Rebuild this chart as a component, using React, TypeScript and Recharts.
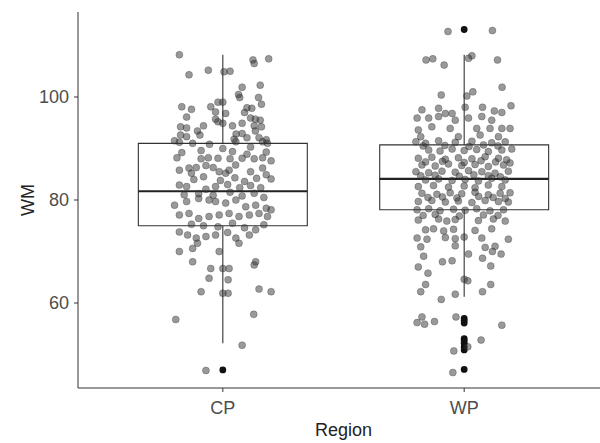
import React from 'react';
import {
  ComposedChart,
  Scatter,
  XAxis,
  YAxis,
  ReferenceArea,
  ReferenceLine,
  Label,
} from 'recharts';

const categories = ['CP', 'WP'];
const yTicks = [60, 80, 100];

// box statistics, one value per region
const lowerWhisker = [52.2, 61.2];
const q1 = [75.0, 78.1];
const median = [81.7, 84.1];
const q3 = [91.0, 90.7];
const upperWhisker = [108.2, 108.2];

const cpOutliers = [47.0];
const wpOutliers = [113.1, 57.0, 56.6, 56.1, 53.1, 52.7, 52.2, 51.5, 50.9, 47.1];

// jittered points: [horizontal jitter, WM]
const cpJitter = [
  [-0.18, 108.2], [-0.14, 104.3], [-0.06, 105.2], [0.005, 104.9], [0.03, 105.0], [0.125, 107.2], [0.13, 106.5],
  [0.19, 107.4], [0.08, 101.9], [0.155, 102.3], [0.065, 100.5], [0.07, 99.9], [0.148, 99.9], [0.16, 98.6],
  [-0.02, 99.0], [0.0, 99.0], [-0.17, 98.1], [-0.13, 97.6], [-0.05, 98.1], [-0.03, 97.1], [0.012, 96.8],
  [0.1, 97.9], [0.12, 97.8], [0.09, 97.0], [-0.15, 96.1], [-0.03, 95.7], [-0.02, 95.2], [0.0, 94.9],
  [0.04, 94.4], [0.08, 94.9], [0.115, 95.9], [0.135, 95.7], [0.155, 95.5], [0.13, 94.4], [0.16, 94.2],
  [-0.175, 94.2], [-0.15, 94.0], [-0.08, 94.4], [-0.105, 93.4], [-0.095, 92.6], [0.135, 93.4], [-0.175, 92.6],
  [-0.15, 92.3], [0.055, 92.8], [0.08, 92.9], [0.1, 92.1], [0.15, 92.1], [0.18, 91.7], [-0.2, 91.5],
  [-0.18, 91.2], [-0.125, 91.0], [-0.055, 90.8], [0, 90.0], [0.047, 91.8], [0.054, 91.3], [0.115, 90.3],
  [0.165, 91.3], [0.185, 91.0],
  [-0.17, 89.2], [-0.09, 89.6], [0.04, 89.4], [0.1, 88.9], [0.18, 89.3],
  [-0.19, 88.2], [-0.09, 88.0], [-0.06, 88.2], [-0.02, 88.1], [0.03, 88.0], [0.08, 88.1], [0.13, 88.0],
  [0.165, 88.2], [0.2, 87.6],
  [-0.18, 85.8], [-0.14, 86.2], [-0.11, 86.3], [-0.13, 85.2], [-0.07, 86.7], [-0.04, 86.3], [-0.015, 85.5],
  [0.012, 85.2], [0.026, 85.8], [0.053, 86.8], [0.115, 85.5], [0.165, 86.2], [0.18, 84.9], [0.2, 84.1],
  [-0.12, 84.0], [-0.08, 84.5], [-0.01, 83.8], [0.05, 84.3], [0.09, 83.6], [0.14, 84.2],
  [-0.18, 82.9], [-0.15, 82.6], [-0.07, 82.1], [-0.03, 82.6], [0.02, 83.0], [0.07, 82.4], [0.115, 82.8],
  [0.157, 82.4],
  [-0.16, 81.0], [-0.1, 81.2], [-0.04, 80.9], [0.03, 81.5], [0.08, 80.8], [0.13, 81.3], [0.17, 80.5],
  [-0.2, 79.0], [-0.15, 79.7], [-0.1, 80.3], [-0.057, 80.0], [-0.03, 79.7], [0.012, 79.4], [0.054, 80.0],
  [0.095, 78.7], [0.136, 79.0], [0.18, 78.4], [0.2, 78.1],
  [-0.18, 77.1], [-0.14, 77.4], [-0.1, 76.4], [-0.057, 76.8], [-0.015, 77.1], [0.026, 77.4], [0.067, 76.8],
  [0.11, 77.1], [0.15, 77.4], [0.185, 76.8],
  [-0.13, 75.3], [-0.08, 75.0], [-0.02, 74.8], [0.04, 75.5], [0.09, 74.6], [0.17, 75.2],
  [-0.18, 73.8], [-0.146, 73.2], [-0.11, 72.6], [-0.105, 71.6], [-0.07, 72.9], [-0.03, 73.2], [0.02, 73.7],
  [0.054, 72.6], [0.067, 71.6], [0.11, 73.2], [0.136, 74.2], [-0.18, 70.0], [-0.125, 70.6], [-0.015, 70.0],
  [0.136, 68.0], [-0.125, 68.0],
  [-0.05, 66.7], [0.0, 66.7], [0.026, 66.7], [0.13, 67.4], [-0.057, 64.8], [0.022, 64.5], [-0.09, 62.2],
  [0.0, 61.9], [0.022, 61.9], [0.15, 62.7], [0.2, 62.2], [-0.195, 56.8], [0.128, 57.8], [0.08, 51.8],
  [-0.07, 46.9],
];

const wpJitter = [
  [-0.067, 112.7], [0.117, 112.9], [-0.158, 107.2], [-0.13, 107.4], [-0.083, 106.2], [0.018, 107.5],
  [0.032, 108.0], [0.138, 107.2], [-0.095, 100.4], [0.011, 100.2], [0.036, 101.0], [0.157, 101.9],
  [0.194, 98.3],
  [-0.175, 97.5], [-0.106, 97.8], [-0.05, 96.8], [0.004, 98.0], [0.076, 98.0], [0.125, 97.3], [0.156, 97.0],
  [-0.195, 95.9], [-0.147, 95.9], [-0.106, 96.2], [-0.078, 96.8], [0.018, 95.9], [0.073, 96.2], [0.114, 95.5],
  [-0.19, 93.6], [-0.134, 94.2], [-0.037, 95.5], [0.052, 93.9], [0.107, 93.9], [0.156, 93.9], [0.19, 93.9],
  [-0.18, 92.3], [-0.058, 93.9], [-0.024, 92.3], [0.066, 92.6], [0.142, 92.3],
  [-0.2, 91.3], [-0.16, 91.0], [-0.106, 91.5], [-0.037, 91.2], [0.032, 91.4], [0.114, 91.1], [0.17, 91.3],
  [-0.17, 90.5], [-0.08, 90.6], [0.02, 90.4], [0.08, 90.7], [0.14, 90.5],
  [-0.147, 89.7], [-0.1, 89.5], [-0.05, 89.9], [0, 89.6], [0.052, 89.8], [0.1, 89.4], [0.156, 89.7], [0.197, 89.9],
  [-0.19, 88.1], [-0.134, 88.3], [-0.078, 87.9], [-0.024, 88.2], [0.032, 88.0], [0.087, 88.4], [0.142, 88.1],
  [0.176, 87.8],
  [-0.16, 87.4], [-0.09, 87.5], [0.0, 87.3], [0.07, 87.6], [0.13, 87.4], [0.19, 87.2],
  [-0.175, 86.8], [-0.12, 86.6], [-0.065, 87.0], [-0.01, 86.7], [0.045, 86.9], [0.1, 86.5], [0.163, 86.8],
  [-0.2, 85.5], [-0.147, 85.3], [-0.092, 85.6], [-0.037, 85.4], [0.018, 85.7], [0.073, 85.5], [0.128, 85.2],
  [0.183, 85.6],
  [-0.18, 84.7], [-0.12, 84.8], [-0.02, 84.6], [0.04, 84.9], [0.1, 84.7], [0.15, 84.5],
  [-0.16, 83.9], [-0.106, 84.1], [-0.05, 83.8], [0.004, 84.0], [0.059, 83.7], [0.114, 84.2], [0.17, 83.9],
  [-0.19, 82.6], [-0.127, 82.8], [-0.065, 82.5], [0.0, 82.7], [0.045, 82.4], [0.1, 82.9], [0.156, 82.6],
  [-0.175, 81.3], [-0.113, 81.1], [-0.058, 81.4], [-0.01, 81.2], [0.045, 81.5], [0.1, 81.0], [0.149, 81.3],
  [0.19, 81.4],
  [-0.15, 80.5], [-0.09, 80.6], [-0.03, 80.4], [0.06, 80.7], [0.12, 80.5], [0.17, 80.3],
  [-0.19, 79.7], [-0.134, 79.9], [-0.078, 79.6], [-0.024, 79.8], [0.032, 79.5], [0.087, 79.9], [0.142, 79.7],
  [0.183, 79.6],
  [-0.195, 78.1], [-0.147, 78.3], [-0.1, 77.9], [-0.044, 78.2], [0.004, 78.0], [0.052, 78.3], [0.107, 77.9],
  [0.163, 78.1],
  [-0.17, 77.0], [-0.12, 77.2], [-0.02, 76.9], [0.08, 77.1], [0.14, 77.0],
  [-0.19, 76.1], [-0.106, 76.3], [-0.072, 75.9], [-0.037, 76.2], [0.059, 76.0], [0.121, 76.3], [0.17, 75.9],
  [-0.16, 74.2], [-0.127, 74.4], [-0.085, 74.0], [-0.044, 74.3], [0.045, 74.1], [0.114, 74.4],
  [-0.195, 72.6], [-0.154, 72.4], [-0.078, 72.7], [-0.037, 72.5], [0, 72.8], [0.073, 72.6], [0.183, 72.4],
  [-0.18, 70.9], [-0.037, 71.1], [0.087, 70.8], [0.128, 71.0],
  [-0.168, 69.1], [0.018, 69.5], [0.076, 68.7], [0.11, 67.2], [0.117, 70.0], [0.153, 69.5], [-0.19, 67.0],
  [-0.09, 68.0], [-0.05, 68.2], [-0.15, 65.8], [0, 64.6], [0.015, 64.3], [-0.16, 63.6], [-0.18, 62.2],
  [-0.095, 60.7], [-0.037, 61.7], [0.076, 62.2], [0.11, 63.6], [-0.175, 57.3], [-0.195, 56.2],
  [-0.164, 55.9], [-0.123, 56.4], [-0.034, 57.3], [0.156, 55.7], [0.07, 52.8], [0.015, 51.5],
  [-0.043, 50.7], [-0.047, 46.5],
];

const BOX_HALF = 0.35;
const font = '"Liberation Sans", Arial, sans-serif';
const tickStyle = { fill: '#4d4d4d', fontSize: 18, fontFamily: font };
const titleStyle = { fill: '#222', fontSize: 18, fontFamily: font };

const toPoints = (rows: number[][], pos: number) => rows.map(([dx, v]) => ({ x: pos + dx, y: v }));

const jitterPoints = [...toPoints(cpJitter, 1), ...toPoints(wpJitter, 2)];
const outlierPoints = [
  ...cpOutliers.map((v) => ({ x: 1, y: v })),
  ...wpOutliers.map((v) => ({ x: 2, y: v })),
];

const JitterDot = (props: any) => (
  <circle cx={props.cx} cy={props.cy} r={3.5} fill="#333" fillOpacity={0.5} stroke="#222" strokeOpacity={0.35} strokeWidth={0.8} />
);
const OutlierDot = (props: any) => <circle cx={props.cx} cy={props.cy} r={3.4} fill="#111" />;

export default function App() {
  return (
    <div style={{ position: 'absolute', left: 0, top: 0, width: 600, height: 443, overflow: 'hidden', background: '#fff' }}>
      <ComposedChart width={620} height={443} margin={{ top: 12, right: 11, bottom: 0, left: 0 }}>
        <XAxis
          type="number"
          dataKey="x"
          domain={[0.4, 2.6]}
          ticks={[1, 2]}
          tickFormatter={(v) => categories[v - 1]}
          allowDataOverflow
          height={55}
          tickSize={4}
          tickMargin={9}
          stroke="#333"
          tick={tickStyle}
        >
          <Label value="Region" position="insideBottom" offset={7} style={titleStyle} />
        </XAxis>
        <YAxis
          type="number"
          dataKey="y"
          domain={[43.5, 116.5]}
          ticks={yTicks}
          allowDataOverflow
          width={78}
          tickSize={4}
          tickMargin={5}
          stroke="#333"
          tick={tickStyle}
        >
          <Label value="WM" angle={-90} position="insideLeft" offset={28} style={{ ...titleStyle, textAnchor: 'middle' }} />
        </YAxis>
        {categories.map((c, i) => (
          <ReferenceArea
            key={'box' + c}
            x1={i + 1 - BOX_HALF}
            x2={i + 1 + BOX_HALF}
            y1={q1[i]}
            y2={q3[i]}
            fill="none"
            fillOpacity={0}
            stroke="#333"
            strokeWidth={1.1}
          />
        ))}
        {categories.map((c, i) => (
          <ReferenceLine
            key={'med' + c}
            segment={[{ x: i + 1 - BOX_HALF, y: median[i] }, { x: i + 1 + BOX_HALF, y: median[i] }]}
            stroke="#222"
            strokeWidth={2.2}
          />
        ))}
        {categories.map((c, i) => (
          <ReferenceLine
            key={'up' + c}
            segment={[{ x: i + 1, y: q3[i] }, { x: i + 1, y: upperWhisker[i] }]}
            stroke="#333"
            strokeWidth={1.1}
          />
        ))}
        {categories.map((c, i) => (
          <ReferenceLine
            key={'lo' + c}
            segment={[{ x: i + 1, y: q1[i] }, { x: i + 1, y: lowerWhisker[i] }]}
            stroke="#333"
            strokeWidth={1.1}
          />
        ))}
        <Scatter data={outlierPoints} shape={OutlierDot} isAnimationActive={false} />
        <Scatter data={jitterPoints} shape={JitterDot} isAnimationActive={false} />
      </ComposedChart>
    </div>
  );
}
